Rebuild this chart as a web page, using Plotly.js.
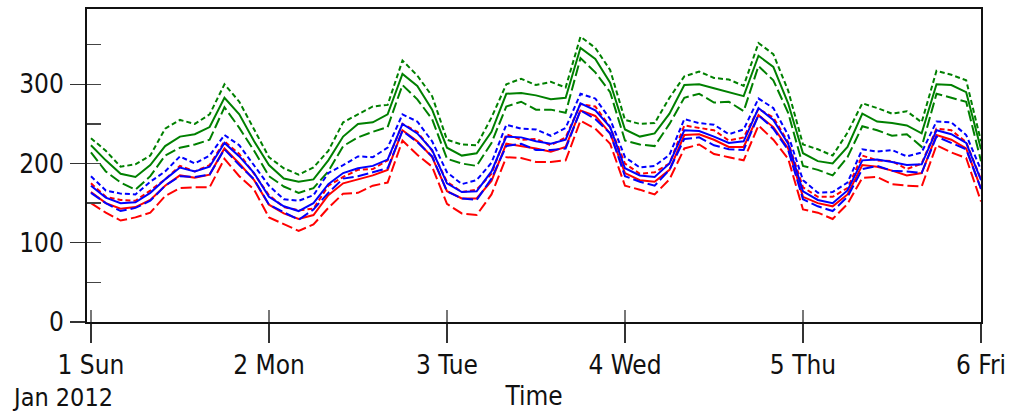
<!DOCTYPE html>
<html>
<head>
<meta charset="utf-8">
<script src="https://cdn.plot.ly/plotly-3.0.1.min.js"></script>
<style>html,body{margin:0;padding:0;background:#fff;}#chart{width:1021px;height:412px;}</style>
</head>
<body>
<div id="chart"></div>
<script>
// hours since 2012-01-01 00:00
const hours = [0,2,4,6,8,10,12,14,16,18,20,22,24,26,28,30,32,34,36,38,40,42,44,46,48,50,52,54,56,58,60,62,64,66,68,70,72,74,76,78,80,82,84,86,88,90,92,94,96,98,100,102,104,106,108,110,112,114,116,118,120];

const dayTicks = ["2012-01-01","2012-01-02","2012-01-03","2012-01-04","2012-01-05","2012-01-06"];
const dayLabels = ["1 Sun","2 Mon","3 Tue","4 Wed","5 Thu","6 Fri"];
const yTicks = [0,100,200,300];
const yMinor = [0,50,100,150,200,250,300,350];

const greenMid = [223,204,187,183,198,222,234,237,246,283,262,228,198,181,177,180,204,234,250,252,262,313,298,268,220,210,213,240,288,289,286,281,283,346,332,302,243,234,238,263,299,300,295,290,285,336,322,276,213,203,200,221,263,253,251,248,238,300,299,290,218];
const greenUp  = [232,216,196,199,210,244,255,250,262,300,278,243,208,194,186,195,216,252,262,272,274,330,311,285,230,224,223,258,300,307,299,303,296,360,346,318,255,250,251,283,310,316,308,306,298,352,338,292,224,218,210,239,276,270,263,266,252,317,312,305,228];
const greenLow = [214,190,176,167,184,210,220,224,230,271,245,216,184,171,163,169,190,222,233,240,246,299,281,256,206,200,197,226,272,278,268,268,264,333,315,290,229,224,222,250,283,288,277,278,266,323,305,264,197,192,185,208,247,242,235,237,221,288,283,278,203];

const blueMid  = [172,157,150,151,163,180,195,190,196,226,209,188,158,146,140,150,174,188,194,197,205,250,238,217,175,164,165,190,234,233,228,225,230,276,267,246,194,185,183,200,242,241,234,226,228,270,255,225,165,154,150,166,204,205,202,198,199,242,237,226,179];
const blueUp   = [184,166,162,161,177,190,209,200,210,236,223,198,172,155,153,160,188,198,209,208,220,262,253,228,189,174,179,201,249,244,243,235,245,288,282,256,208,195,197,211,256,251,249,237,243,282,270,236,179,163,164,176,218,215,217,209,214,253,252,236,192];
const blueLow  = [163,150,140,144,153,172,184,183,186,218,198,180,148,139,129,142,163,181,184,189,194,241,227,209,165,156,154,181,222,225,217,217,219,267,256,238,184,177,172,192,231,233,223,218,217,261,244,217,155,146,140,158,193,197,191,190,188,234,226,218,168];

const redMid   = [164,150,143,145,154,172,185,182,186,219,200,179,148,137,130,135,160,175,180,185,192,242,228,208,165,156,156,178,225,222,219,215,221,267,260,238,188,179,177,192,236,237,230,221,221,261,246,219,158,150,146,161,198,196,191,185,188,236,230,219,168];
const redUp    = [175,158,154,153,166,180,197,190,198,228,212,187,160,145,141,143,172,183,192,193,204,250,240,216,177,164,167,187,237,230,231,223,233,275,272,246,200,187,189,200,248,245,242,229,233,269,258,227,170,158,158,169,210,204,203,193,200,244,242,227,180];
const redLow   = [150,138,128,132,138,159,169,170,170,206,184,167,132,124,115,123,144,162,163,172,176,229,211,196,149,137,135,161,208,207,202,202,204,254,244,225,172,167,161,180,219,224,212,208,204,248,230,206,142,138,130,149,182,183,174,172,171,223,214,207,152];

function hourToDate(h){
  const d = new Date(Date.UTC(2012,0,1,h));
  return d.toISOString().slice(0,19).replace('T',' ');
}
const times = hours.map(hourToDate);

const GREEN = 'rgb(0,128,0)', BLUE = 'rgb(0,0,255)', RED = 'rgb(255,0,0)';
const SHORT = '5px,3px', LONG = '11px,4px';

function tr(y, color, dash){
  return {x: times, y: y, type: 'scatter', mode: 'lines',
    line: {color: color, width: 2, dash: dash}, hoverinfo: 'skip', showlegend: false};
}

const data = [
  tr(greenUp, GREEN, SHORT), tr(greenLow, GREEN, LONG), tr(greenMid, GREEN, 'solid'),
  tr(redUp, RED, SHORT), tr(redLow, RED, LONG), tr(redMid, RED, 'solid'),
  tr(blueUp, BLUE, SHORT), tr(blueLow, BLUE, LONG), tr(blueMid, BLUE, 'solid'),
  {x: [], y: [], xaxis: 'x2', yaxis: 'y2', type: 'scatter', mode: 'lines', showlegend: false, hoverinfo: 'skip'}
];

const FONT = 'DejaVu Sans Condensed, DejaVu Sans, sans-serif';
const xRange = ["2011-12-31 23:28", "2012-01-06 00:00"];
const yRange = [0, 395];

const layout = {
  width: 1021, height: 412,
  margin: {l: 87, r: 40, t: 9, b: 90},
  paper_bgcolor: '#fff', plot_bgcolor: '#fff',
  showlegend: false,
  font: {family: FONT, size: 26, color: '#111'},
  xaxis: {
    type: 'date', range: xRange, tickmode: 'array', tickvals: dayTicks, ticktext: dayLabels,
    ticks: 'outside', ticklen: 19, tickwidth: 1.3, tickcolor: '#333',
    showgrid: false, zeroline: false, showline: true, linecolor: '#111', linewidth: 2, mirror: true,
    tickfont: {family: FONT, size: 26, color: '#111'},
    title: {text: 'Time', font: {family: FONT, size: 26, color: '#111'}, standoff: 8}
  },
  yaxis: {
    range: yRange, tickmode: 'array', tickvals: yTicks, ticktext: yTicks.map(String),
    ticks: 'outside', ticklen: 15, tickwidth: 1.3, tickcolor: '#333',
    showgrid: false, zeroline: false, showline: true, linecolor: '#111', linewidth: 2, mirror: true,
    tickfont: {family: FONT, size: 26, color: '#111'}, ticklabelstandoff: 1
  },
  xaxis2: {
    type: 'date', range: xRange, overlaying: 'x', tickmode: 'array', tickvals: dayTicks,
    ticks: 'inside', ticklen: 12, tickwidth: 1.3, tickcolor: '#777', showticklabels: false,
    showgrid: false, zeroline: false, showline: false
  },
  yaxis2: {
    range: yRange, overlaying: 'y', side: 'left', tickmode: 'array', tickvals: yMinor,
    ticks: 'inside', ticklen: 14, tickwidth: 1.3, tickcolor: '#444', showticklabels: false,
    showgrid: false, zeroline: false, showline: false
  },
  annotations: [{
    text: 'Jan 2012', xref: 'paper', yref: 'paper', x: -0.086, y: -0.24,
    xanchor: 'left', yanchor: 'middle', showarrow: false,
    font: {family: FONT, size: 25, color: '#111'}
  }]
};

Plotly.newPlot('chart', data, layout, {staticPlot: true, displayModeBar: false});
</script>
</body>
</html>
